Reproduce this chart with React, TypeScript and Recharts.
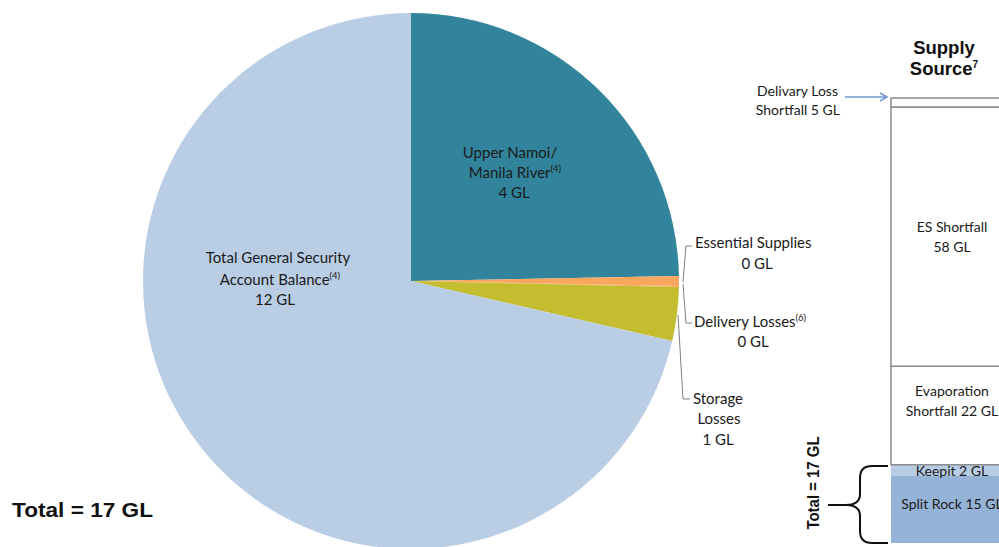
import React from 'react';
import { PieChart, Pie, Cell, BarChart, Bar, XAxis, YAxis } from 'recharts';

// ---- Pie data (drawn share of total 17 GL) ----
const pieNames = ['Upper Namoi/ Manila River', 'Essential Supplies', 'Delivery Losses', 'Storage Losses', 'Total General Security Account Balance'];
const pieValues = [4.2, 0.1, 0.01, 0.55, 12.14];
const pieLabels = ['4 GL', '0 GL', '0 GL', '1 GL', '12 GL'];
const pieColors = ['#31849B', '#F9A65E', '#F9A65E', '#C4BD2F', '#B9CDE5'];

// ---- Supply source stacked column (bottom to top) ----
const supplyKeys = ['splitRock', 'keepit', 'evaporation', 'esShortfall', 'deliveryLoss'];
const supplyValues = [15, 2.5, 22, 58, 2];
const supplyLabels = ['Split Rock 15 GL', 'Keepit 2 GL', 'Evaporation|Shortfall  22 GL', 'ES Shortfall|58 GL', ''];
const supplyFills = ['#95B3D7', '#B8CCE4', '#FFFFFF', '#FFFFFF', '#FFFFFF'];
const supplyStrokes = ['none', 'none', '#8C8C8C', '#8C8C8C', '#8C8C8C'];

const pieData = pieNames.map((name, i) => ({ name, value: pieValues[i], label: pieLabels[i] }));
const supplyRow: Record<string, any> = { name: 'Supply Source' };
supplyKeys.forEach((k, i) => (supplyRow[k] = supplyValues[i]));
const supplyTotal = supplyValues.reduce((a, b) => a + b, 0);

const FONT = 'Lato, "Noto Sans", sans-serif';
const BOLD = '"Liberation Sans", Arial, sans-serif';
const TXT = '#1a1a1a';

const Sup = ({ t }: { t: string }) => (
  <tspan fontSize={9.5} dy={-6}>{t}</tspan>
);

const renderPieLabel = (props: any) => {
  const { cx, cy, index } = props;
  const fs = 15;
  if (index === 0) {
    const x = cx + 99;
    return (
      <g>
        <text x={x} y={cy - 123} textAnchor="middle" fontFamily={FONT} fontSize={fs} fill={TXT}>Upper Namoi/</text>
        <text x={x + 5} y={cy - 103} textAnchor="middle" fontFamily={FONT} fontSize={fs} fill={TXT}>Manila River<Sup t="(4)" /></text>
        <text x={x + 4} y={cy - 83} textAnchor="middle" fontFamily={FONT} fontSize={fs} fill={TXT}>{pieData[0].label}</text>
      </g>
    );
  }
  if (index === 4) {
    const x = cx - 133;
    return (
      <g>
        <text x={x} y={cy - 18} textAnchor="middle" fontFamily={FONT} fontSize={fs} fill={TXT}>Total General Security</text>
        <text x={x + 2} y={cy + 4} textAnchor="middle" fontFamily={FONT} fontSize={fs} fill={TXT}>Account Balance<Sup t="(4)" /></text>
        <text x={x - 3} y={cy + 24} textAnchor="middle" fontFamily={FONT} fontSize={fs} fill={TXT}>{pieData[4].label}</text>
      </g>
    );
  }
  const lc = '#7F7F7F';
  if (index === 1) {
    return (
      <g>
        <polyline points={`${cx + 272},${cy + 1} ${cx + 275},${cy - 35} ${cx + 281},${cy - 35}`} fill="none" stroke={lc} strokeWidth={1} />
        <text x={cx + 284} y={cy - 33} fontFamily={FONT} fontSize={fs} fill={TXT}>Essential Supplies</text>
        <text x={cx + 346} y={cy - 12} textAnchor="middle" fontFamily={FONT} fontSize={fs} fill={TXT}>{pieData[1].label}</text>
      </g>
    );
  }
  if (index === 2) {
    return (
      <g>
        <polyline points={`${cx + 272},${cy + 3} ${cx + 275},${cy + 42} ${cx + 281},${cy + 42}`} fill="none" stroke={lc} strokeWidth={1} />
        <text x={cx + 283} y={cy + 46} fontFamily={FONT} fontSize={fs} fill={TXT}>Delivery Losses<Sup t="(6)" /></text>
        <text x={cx + 342} y={cy + 66} textAnchor="middle" fontFamily={FONT} fontSize={fs} fill={TXT}>{pieData[2].label}</text>
      </g>
    );
  }
  if (index === 3) {
    return (
      <g>
        <polyline points={`${cx + 267},${cy + 34} ${cx + 272},${cy + 118} ${cx + 279},${cy + 118}`} fill="none" stroke={lc} strokeWidth={1} />
        <text x={cx + 307} y={cy + 123} textAnchor="middle" fontFamily={FONT} fontSize={fs} fill={TXT}>Storage</text>
        <text x={cx + 308} y={cy + 143} textAnchor="middle" fontFamily={FONT} fontSize={fs} fill={TXT}>Losses</text>
        <text x={cx + 307} y={cy + 164} textAnchor="middle" fontFamily={FONT} fontSize={fs} fill={TXT}>{pieData[3].label}</text>
      </g>
    );
  }
  return null;
};

const makeBarLabel = (i: number) => (props: any) => {
  const { x, y, width, height } = props;
  const text = supplyLabels[i];
  if (!text) return null;
  const lines = text.split('|');
  const cxp = x + width / 2;
  let cyp = y + height / 2;
  if (i === 2) cyp -= 14;
  if (i === 1) cyp = y + height / 2 + 1;
  if (i === 0) cyp = y + height / 2 - 5;
  const lh = 20;
  const start = cyp - ((lines.length - 1) * lh) / 2;
  return (
    <g>
      {lines.map((l, k) => (
        <text key={k} x={cxp} y={start + k * lh} dy="0.35em" textAnchor="middle" fontFamily={FONT} fontSize={14} fill={TXT}>{l}</text>
      ))}
    </g>
  );
};

export default function App() {
  return (
    <div style={{ position: 'absolute', left: 0, top: 0, width: 999, height: 547, overflow: 'hidden', background: '#fff' }}>
      <div style={{ position: 'absolute', left: 0, top: 0 }}>
        <PieChart width={999} height={547} margin={{ top: 0, right: 0, bottom: 0, left: 0 }}>
          <Pie
            data={pieData}
            dataKey="value"
            nameKey="name"
            cx={411}
            cy={281}
            outerRadius={268}
            startAngle={90}
            endAngle={-270}
            stroke="none"
            isAnimationActive={false}
            labelLine={false}
            label={renderPieLabel}
          >
            {pieData.map((d, i) => (
              <Cell key={d.name} fill={pieColors[i]} />
            ))}
          </Pie>
        </PieChart>
      </div>

      <div style={{ position: 'absolute', left: 889, top: 96, width: 110, height: 449, overflow: 'hidden' }}>
        <BarChart width={128} height={449} data={[supplyRow]} margin={{ top: 2, right: 4, bottom: 2, left: 2 }} barCategoryGap={0}>
          <XAxis dataKey="name" hide />
          <YAxis hide domain={[0, supplyTotal]} />
          {supplyKeys.map((k, i) => (
            <Bar
              key={k}
              dataKey={k}
              stackId="s"
              fill={supplyFills[i]}
              stroke={supplyStrokes[i]}
              strokeWidth={1.5}
              isAnimationActive={false}
              label={makeBarLabel(i)}
            />
          ))}
        </BarChart>
      </div>

      <svg width={999} height={547} style={{ position: 'absolute', left: 0, top: 0, pointerEvents: 'none' }}>
        <defs>
          <marker id="ah" markerWidth="10" markerHeight="10" refX="8" refY="5" orient="auto" markerUnits="userSpaceOnUse">
            <path d="M1,1 L8,5 L1,9" fill="none" stroke="#6F97CD" strokeWidth={1.5} />
          </marker>
        </defs>
        <text x={12} y={517} fontFamily={BOLD} fontWeight="bold" fontSize={20} textLength={141} lengthAdjust="spacingAndGlyphs" fill="#111">Total = 17 GL</text>

        <text x={944} y={54} textAnchor="middle" fontFamily={BOLD} fontWeight="bold" fontSize={18.5} fill="#111">Supply</text>
        <text x={944} y={75} textAnchor="middle" fontFamily={BOLD} fontWeight="bold" fontSize={18.5} fill="#111">Source<tspan fontSize={10} dy={-7}>7</tspan></text>

        <text x={838} y={96} textAnchor="end" fontFamily={FONT} fontSize={14} fill={TXT}>Delivary Loss</text>
        <text x={840} y={115} textAnchor="end" fontFamily={FONT} fontSize={14} fill={TXT}>Shortfall  5 GL</text>
        <line x1={845} y1={97} x2={887} y2={97} stroke="#6F97CD" strokeWidth={1.5} markerEnd="url(#ah)" />

        <path d="M888,466 L872,466 Q860,466 860,478 L860,494 Q860,505 846,505 L828,505 M846,505 Q860,505 860,516 L860,531 Q860,543 872,543 L888,543" fill="none" stroke="#111" strokeWidth={2} />
        <text transform="translate(819,483) rotate(-90)" textAnchor="middle" fontFamily={BOLD} fontWeight="bold" fontSize={17} textLength={93} lengthAdjust="spacingAndGlyphs" fill="#111">Total = 17 GL</text>
      </svg>
    </div>
  );
}
